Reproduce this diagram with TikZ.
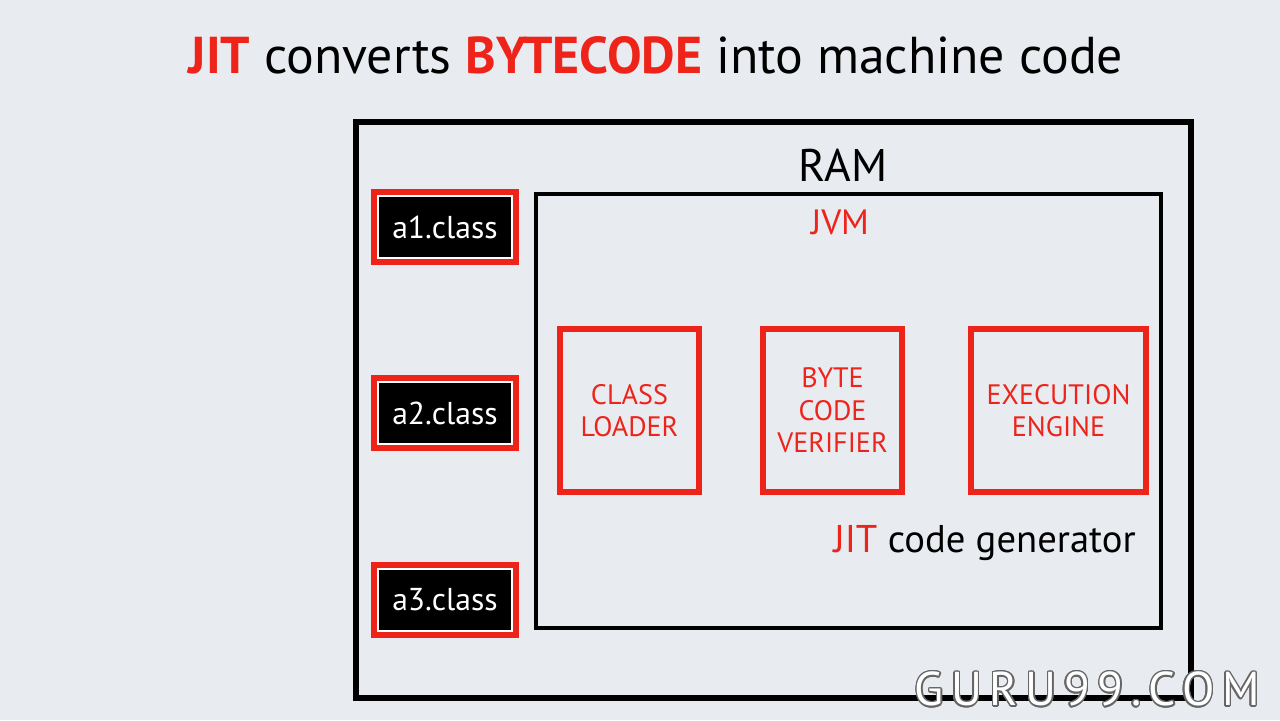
\documentclass[tikz,border=0pt]{standalone}
\usepackage{fontspec}
\setmainfont{PT Sans}
\usepackage{contour}
\usetikzlibrary{positioning}
\definecolor{jitred}{RGB}{238,36,26}
\definecolor{bgpaper}{RGB}{232,236,241}
\contourlength{0.8pt}
\contournumber{16}
\tikzset{
  ramline/.style={draw=black, line width=3.4pt},
  jvmline/.style={draw=black, line width=2.4pt},
  partbox/.style={draw=jitred, line width=3.8pt, minimum width=2.78cm, minimum height=3.26cm,
    align=center, text=jitred, font=\fontsize{16}{18.5}\selectfont},
  classbox/.style={draw=jitred, line width=3.2pt, fill=white, text=white,
    minimum width=2.84cm, minimum height=1.4cm, font=\fontsize{18}{20}\selectfont,
    path picture={\fill[black] ([shift={(3pt,-3pt)}]path picture bounding box.north west)
      rectangle ([shift={(-3pt,3pt)}]path picture bounding box.south east);}},
}
\begin{document}
\begin{tikzpicture}[x=0.02cm, y=-0.02cm]
  % Background
  \fill[bgpaper] (0,0) rectangle (1280,720);

  % Title
  \node[font=\fontsize{29.5}{34}\selectfont] (title) at (656,55)
    {\textcolor{jitred}{\bfseries JIT} converts \textcolor{jitred}{\bfseries BYTECODE} into machine code};

  % RAM
  \draw[ramline] (356,122) rectangle (1191,698);
  \node[font=\fontsize{26}{30}\selectfont] (ram) at (843,165) {RAM};

  % JVM
  \draw[jvmline] (536,194) rectangle (1161,628);
  \node[font=\fontsize{20}{24}\selectfont, text=jitred] (jvm) at (840,222) {JVM};

  % Class files
  \node[classbox] (a1) at (445,227) {a1.class};
  \node[classbox] (a2) at (445,413) {a2.class};
  \node[classbox] (a3) at (445,600) {a3.class};

  % JVM parts
  \node[partbox] (loader) at (629.5,410.5) {CLASS\\LOADER};
  \node[partbox] (verifier) at (832.5,410.5) {BYTE\\CODE\\VERIFIER};
  \node[partbox, minimum width=3.5cm] (engine) at (1058.5,410.5) {EXECUTION\\ENGINE};

  % JIT
  \node[anchor=east, font=\fontsize{22}{26}\selectfont] (jit) at (1142,543)
    {\textcolor{jitred}{JIT} code generator};

  % Watermark
  \node[anchor=east, font=\fontsize{27}{30}\selectfont\addfontfeature{LetterSpace=16}] (guru) at (1266,690)
    {\contour{gray!80!black}{\textcolor{white}{GURU99.COM}}};
\end{tikzpicture}
\end{document}
